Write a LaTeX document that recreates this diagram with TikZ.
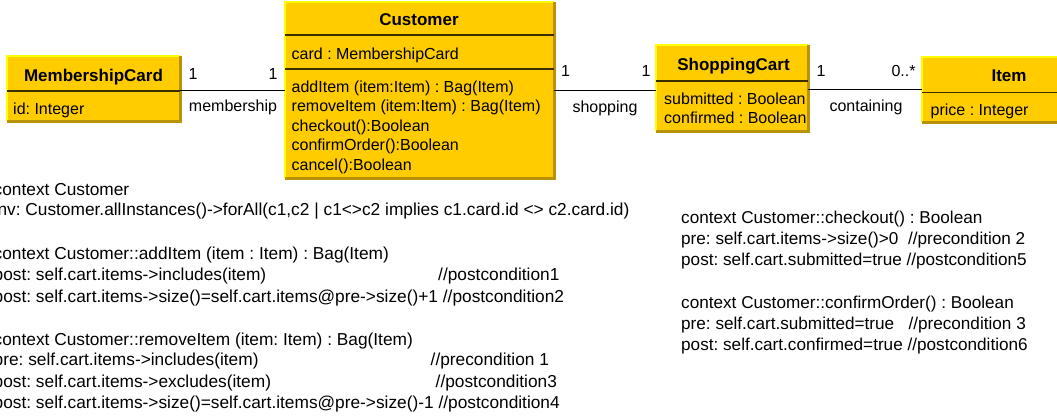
\documentclass[tikz,border=0pt]{standalone}
\usepackage{fontspec}
\setmainfont{Liberation Sans}
\frenchspacing
\definecolor{boxfill}{HTML}{FFCC00}
\definecolor{boxlight}{HTML}{FFFF00}
\definecolor{boxdark}{HTML}{B8930A}
\definecolor{boxrule}{HTML}{3A2E00}
\tikzset{
  classbox/.style={fill=boxfill, draw=none, inner sep=0pt, anchor=north west},
  litedge/.style={draw=boxlight, line width=1.5pt},
  darkedge/.style={draw=boxdark, line width=2.5pt},
  divider/.style={draw=boxrule, line width=1.5pt},
  classname/.style={font=\fontsize{17}{20}\selectfont\bfseries, anchor=base, inner sep=0pt},
  member/.style={font=\fontsize{16}{19}\selectfont, anchor=base west, inner sep=0pt},
  rolelabel/.style={font=\fontsize{16}{19}\selectfont, anchor=base, inner sep=0pt},
  ocl/.style={font=\fontsize{17.3}{20}\selectfont, anchor=base west, inner sep=0pt},
  oclr/.style={font=\fontsize{17.15}{20}\selectfont, anchor=base west, inner sep=0pt},
  assoc/.style={draw=black, line width=1.3pt},
}
\begin{document}
\begin{tikzpicture}[x=1pt, y=-1pt]
\clip (0,0) rectangle (1057,416);
\fill[white] (0,0) rectangle (1057,416);

% class boxes
\node[classbox, minimum width=173pt, minimum height=65pt] (mc) at (7,56) {};
\node[classbox, minimum width=269pt, minimum height=176pt] (cust) at (285,2) {};
\node[classbox, minimum width=152pt, minimum height=86pt] (cart) at (656,45) {};
\node[classbox, minimum width=150pt, minimum height=65pt] (item) at (922,57) {};

% raised edges: light top/left, dark bottom/right
\foreach \b in {mc,cust,cart,item}{
  \draw[litedge] (\b.south west) |- (\b.north east);
  \draw[darkedge] (\b.north east) |- (\b.south west);
}

% compartment dividers
\draw[divider] ([yshift=-35pt]mc.north west) -- ([yshift=-35pt]mc.north east);
\draw[divider] ([yshift=-33pt]cust.north west) -- ([yshift=-33pt]cust.north east);
\draw[divider] ([yshift=-67pt]cust.north west) -- ([yshift=-67pt]cust.north east);
\draw[divider] ([yshift=-36pt]cart.north west) -- ([yshift=-36pt]cart.north east);
\draw[divider] ([yshift=-35.5pt]item.north west) -- ([yshift=-35.5pt]item.north east);

% class names and members
\node[classname] (mc-name) at (93.5,81.7) {MembershipCard};
\node[member] (mc-id) at (13,114) {id: Integer};

\node[classname] (cust-name) at (419,25.7) {Customer};
\node[member] (cust-card) at (291.5,59.3) {card : MembershipCard};
\node[member] (cust-m1) at (291.5,92.3) {addItem (item:Item) : Bag(Item)};
\node[member] (cust-m2) at (291.5,111.8) {removeItem (item:Item) : Bag(Item)};
\node[member] (cust-m3) at (291.5,131.2) {checkout():Boolean};
\node[member] (cust-m4) at (291.5,150.7) {confirmOrder():Boolean};
\node[member] (cust-m5) at (291.5,170.1) {cancel():Boolean};

\node[classname] (cart-name) at (733.5,70) {ShoppingCart};
\node[member] (cart-a1) at (664,104) {submitted : Boolean};
\node[member] (cart-a2) at (664,123.3) {confirmed : Boolean};

\node[classname] (item-name) at (1009,81.7) {Item};
\node[member] (item-a1) at (930.5,115.5) {price : Integer};

% associations
\draw[assoc] (cust.west) -- (cust.west -| mc.east);
\draw[assoc] (cust.east) -- (cust.east -| cart.west);
\draw[assoc] (item.west) -- (item.west -| cart.east);

% association labels and multiplicities
\node[rolelabel] (m-1a) at (193,79.3) {1};
\node[rolelabel] (m-1b) at (273,79.3) {1};
\node[rolelabel] (m-name) at (233,111) {membership};

\node[rolelabel] (s-1a) at (565.5,76.7) {1};
\node[rolelabel] (s-1b) at (646,76.7) {1};
\node[rolelabel] (s-name) at (605,112.5) {shopping};

\node[rolelabel] (c-1a) at (821,76.7) {1};
\node[rolelabel] (c-mult) at (903.5,76.7) {0..*};
\node[rolelabel] (c-name) at (866,111.7) {containing};

% OCL constraints, left column
\node[ocl] (o1) at (-6.5,195) {context Customer};
\node[ocl] (o2) at (-6.5,215.5) {inv: Customer.allInstances()->forAll(c1,c2 | c1<>c2 implies c1.card.id <> c2.card.id)};
\node[ocl] (o3) at (-6.5,259.5) {context Customer::addItem (item : Item) : Bag(Item)};
\node[ocl] (o4) at (-6.5,280) {post: self.cart.items->includes(item)};
\node[ocl] (o4c) at (438,280) {//postcondition1};
\node[ocl] (o5) at (-6.5,302) {post: self.cart.items->size()=self.cart.items@pre->size()+1 //postcondition2};
\node[ocl] (o6) at (-6.5,345) {context Customer::removeItem (item: Item) : Bag(Item)};
\node[ocl] (o7) at (-6.5,365.5) {pre: self.cart.items->includes(item)};
\node[ocl] (o7c) at (430.5,365.5) {//precondition 1};
\node[ocl] (o8) at (-6.5,387) {post: self.cart.items->excludes(item)};
\node[ocl] (o8c) at (435.5,387) {//postcondition3};
\node[ocl] (o9) at (-6.5,408) {post: self.cart.items->size()=self.cart.items@pre->size()-1 //postcondition4};

% OCL constraints, right column
\node[oclr] (r1) at (681,223) {context Customer::checkout() : Boolean};
\node[oclr] (r2) at (681,244) {pre: self.cart.items->size()>0\ \ //precondition 2};
\node[oclr] (r3) at (681,265) {post: self.cart.submitted=true //postcondition5};
\node[oclr] (r4) at (681,308) {context Customer::confirmOrder() : Boolean};
\node[oclr] (r5) at (681,329) {pre: self.cart.submitted=true\ \ \ //precondition 3};
\node[oclr] (r6) at (681,350) {post: self.cart.confirmed=true //postcondition6};
\end{tikzpicture}
\end{document}
